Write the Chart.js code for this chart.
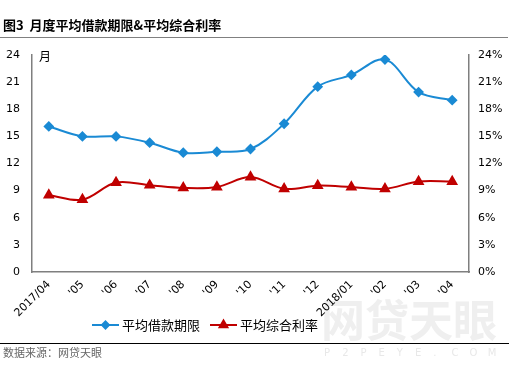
<!DOCTYPE html>
<html>
<head>
<meta charset="utf-8">
<script src="https://cdn.jsdelivr.net/npm/chart.js@4"></script>
<style>
  html, body { margin: 0; padding: 0; background: #fff; }
  #wrap { position: relative; width: 509px; height: 365px; }
</style>
</head>
<body>
<div id="wrap"><canvas id="chart" width="509" height="365"></canvas></div>
<script>
// data
const months = ['2017/04', "'05", "'06", "'07", "'08", "'09", "'10", "'11", "'12", '2018/01', "'02", "'03", "'04"];
const loanTerm = [16.1, 15.0, 15.0, 14.3, 13.2, 13.3, 13.6, 16.4, 20.5, 21.8, 23.5, 19.9, 19.0];
const interestRate = [8.5, 8.0, 9.9, 9.6, 9.3, 9.4, 10.5, 9.2, 9.55, 9.4, 9.2, 10.0, 10.0];
const leftTicks = [0, 3, 6, 9, 12, 15, 18, 21, 24];

const BLUE = '#1a8ad4';
const RED = '#c00000';
const AXIS = '#7f7f7f';
const FONT = "'Noto Sans CJK SC', 'DejaVu Sans', sans-serif";
const TICK_FONT = { family: "'DejaVu Sans', sans-serif", size: 11 };

// page decorations: title, rules, source, watermark, legend
const decor = {
    id: 'decor',
    beforeDraw(chart) {
        const ctx = chart.ctx;
        ctx.save();
        // watermark
        ctx.fillStyle = '#efefef';
        ctx.font = "bold 44px 'Noto Sans CJK SC'";
        ctx.textBaseline = 'middle';
        ctx.textAlign = 'left';
        ctx.fillText('网贷天眼', 321, 320);
        ctx.fillStyle = '#e8e8e8';
        ctx.font = "10px 'DejaVu Sans'";
        const s = 'P2PEYE.COM';
        for (let i = 0; i < s.length; i++) ctx.fillText(s[i], 324 + i * 18.2, 353);
        ctx.restore();
    },
    afterDraw(chart) {
        const ctx = chart.ctx;
        ctx.save();
        ctx.fillStyle = '#000';
        ctx.font = "bold 13px " + FONT;
        ctx.textBaseline = 'middle';
        ctx.fillText('图3  月度平均借款期限&平均综合利率', 3, 25);
        ctx.strokeStyle = '#808080';
        ctx.lineWidth = 1;
        ctx.beginPath(); ctx.moveTo(0, 37.5); ctx.lineTo(508, 37.5); ctx.stroke();
        ctx.strokeStyle = '#000';
        ctx.beginPath(); ctx.moveTo(0, 343.5); ctx.lineTo(509, 343.5); ctx.stroke();
        ctx.fillStyle = '#666';
        ctx.font = "11px " + FONT;
        ctx.fillText('数据来源：网贷天眼', 3, 353);

        // unit label
        ctx.fillStyle = '#000';
        ctx.font = "12px " + FONT;
        ctx.fillText('月', 39, 56);

        // legend
        const items = [
            { x: 92, color: BLUE, style: 'rectRot', r: 3.5, text: '平均借款期限' },
            { x: 210, color: RED, style: 'triangle', r: 4.5, text: '平均综合利率' }
        ];
        const y = 325;
        items.forEach(it => {
            ctx.strokeStyle = it.color;
            ctx.lineWidth = 2;
            ctx.beginPath(); ctx.moveTo(it.x, y); ctx.lineTo(it.x + 27, y); ctx.stroke();
            ctx.fillStyle = it.color;
            Chart.helpers.drawPoint(ctx, { pointStyle: it.style, radius: it.r, borderWidth: 1 }, it.x + 13.5, y);
            ctx.fillStyle = '#000';
            ctx.font = "13px " + FONT;
            ctx.fillText(it.text, it.x + 30, y);
        });
        ctx.restore();
    }
};

const ctx = document.getElementById('chart').getContext('2d');
new Chart(ctx, {
    type: 'line',
    data: {
        labels: months,
        datasets: [{
            label: '平均借款期限',
            data: loanTerm,
            yAxisID: 'y',
            borderColor: BLUE,
            backgroundColor: BLUE,
            borderWidth: 2,
            pointStyle: 'rectRot',
            pointRadius: 4,
            tension: 0.35,
            fill: false
        }, {
            label: '平均综合利率',
            data: interestRate,
            yAxisID: 'y1',
            borderColor: RED,
            backgroundColor: RED,
            borderWidth: 2,
            pointStyle: 'triangle',
            pointRadius: 4.8,
            tension: 0.35,
            fill: false
        }]
    },
    options: {
        responsive: false,
        animation: false,
        layout: { padding: { top: 55, bottom: 0, left: 0, right: 0 } },
        plugins: { legend: { display: false }, tooltip: { enabled: false } },
        scales: {
            x: {
                offset: true,
                grid: { display: false, drawTicks: false },
                border: { color: AXIS, width: 1.5 },
                ticks: { color: '#000', font: { family: "'DejaVu Sans', sans-serif", size: 11 }, minRotation: 45, maxRotation: 45, padding: 6, autoSkip: false },
                afterFit: s => { s.height = 93; }
            },
            y: {
                position: 'left',
                min: 0, max: 24,
                afterBuildTicks: s => { s.ticks = leftTicks.map(v => ({ value: v })); },
                grid: { display: false, drawOnChartArea: false, drawTicks: true, tickLength: 4, tickColor: AXIS },
                border: { color: AXIS, width: 1.5 },
                ticks: { color: '#000', font: TICK_FONT, padding: 8 },
                afterFit: s => { s.width = 32; }
            },
            y1: {
                position: 'right',
                min: 0, max: 24,
                afterBuildTicks: s => { s.ticks = leftTicks.map(v => ({ value: v })); },
                grid: { display: false, drawOnChartArea: false, drawTicks: true, tickLength: 4, tickColor: AXIS },
                border: { color: AXIS, width: 1.5 },
                ticks: { color: '#000', font: TICK_FONT, padding: 5, callback: v => v + '%' },
                afterFit: s => { s.width = 40; }
            }
        }
    },
    plugins: [decor]
});
</script>
</body>
</html>
